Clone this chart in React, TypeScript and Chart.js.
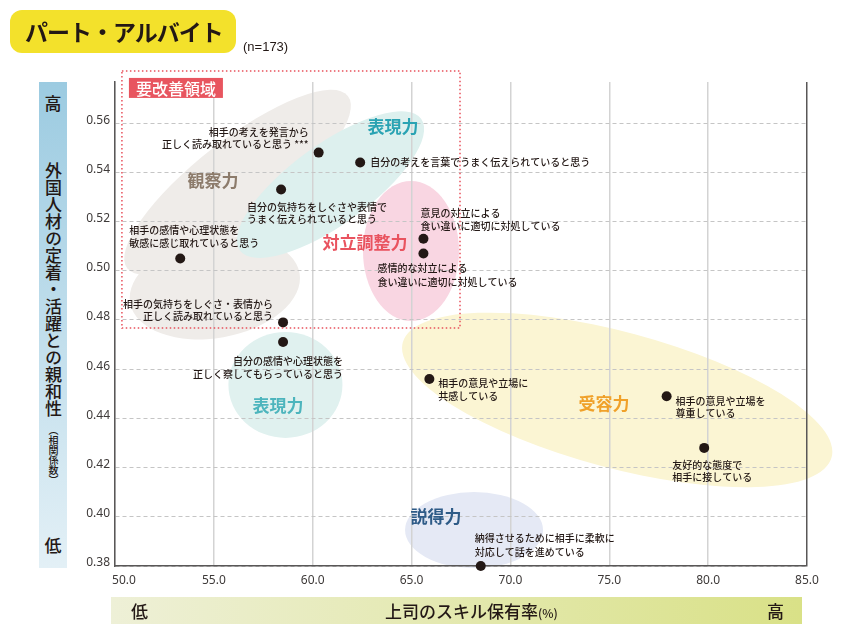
import { useEffect, useRef } from "react";
import { Chart, registerables } from "chart.js";

Chart.register(...registerables);

const JP = "'Noto Sans CJK JP', 'Noto Sans', sans-serif";

// 各項目（2行ラベル）
const pointNames = [
  ["相手の考えを発言から", "正しく読み取れていると思う ***"],
  ["自分の考えを言葉でうまく伝えられていると思う"],
  ["自分の気持ちをしぐさや表情で", "うまく伝えられていると思う"],
  ["相手の感情や心理状態を", "敏感に感じ取れていると思う"],
  ["意見の対立による", "食い違いに適切に対処している"],
  ["感情的な対立による", "食い違いに適切に対処している"],
  ["相手の気持ちをしぐさ・表情から", "正しく読み取れていると思う"],
  ["自分の感情や心理状態を", "正しく察してもらっていると思う"],
  ["相手の意見や立場に", "共感している"],
  ["相手の意見や立場を", "尊重している"],
  ["友好的な態度で", "相手に接している"],
  ["納得させるために相手に柔軟に", "対応して話を進めている"],
];
// 上司のスキル保有率(%)
const skillRates = [60.3, 62.4, 58.4, 53.3, 65.6, 65.6, 58.5, 58.5, 65.9, 77.9, 79.8, 68.5];
// 相関係数
const correlations = [0.548, 0.544, 0.533, 0.505, 0.513, 0.507, 0.479, 0.471, 0.456, 0.449, 0.428, 0.38];

const xTicks = [50, 55, 60, 65, 70, 75, 80, 85];
const yTicks = [0.38, 0.4, 0.42, 0.44, 0.46, 0.48, 0.5, 0.52, 0.54, 0.56];

const groupNames = ["観察力", "表現力", "対立調整力", "表現力", "受容力", "説得力"];

// label placement next to each point (px offsets from the dot)
const labelLayout = [
  { align: "right", dx: -10, dy: -20, lh: 12 },
  { align: "left", dx: 10, dy: 0, lh: 12 },
  { align: "left", dx: -34, dy: 18, lh: 12 },
  { align: "left", dx: -51, dy: -28, lh: 13 },
  { align: "left", dx: -3, dy: -26, lh: 13 },
  { align: "left", dx: -46, dy: 15, lh: 14 },
  { align: "right", dx: -10, dy: -18, lh: 12 },
  { align: "right", dx: 60, dy: 19, lh: 13 },
  { align: "left", dx: 9, dy: 4, lh: 13 },
  { align: "left", dx: 9, dy: 5, lh: 12 },
  { align: "left", dx: -32, dy: 17, lh: 12 },
  { align: "left", dx: -6, dy: -28, lh: 14 },
];

// background groupings (centre in data units, size in px)
const areas = [
  { cx: 56.2, cy: 0.536, rx: 140, ry: 42, rot: -38, color: "#efece9" },
  { cx: 55.05, cy: 0.493, rx: 86, ry: 50, rot: -10, color: "#efece9" },
  { cx: 60.9, cy: 0.535, rx: 112, ry: 40, rot: -36, color: "#ddf0ee" },
  { cx: 64.97, cy: 0.508, rx: 48, ry: 70, rot: 0, color: "#f9d6e2" },
  { cx: 58.62, cy: 0.4536, rx: 57, ry: 53, rot: 0, color: "#e0f1ef" },
  { cx: 75.4, cy: 0.4475, rx: 222, ry: 68, rot: 15, color: "#fbf5d3" },
  { cx: 68.16, cy: 0.3946, rx: 69, ry: 38, rot: 0, color: "#e5e9f5" },
];
const groupLabels = [
  { x: 54.96, y: 0.5365, color: "#8c7b6b" },
  { x: 64.06, y: 0.5585, color: "#2aa3b3" },
  { x: 62.65, y: 0.5113, color: "#e9535f" },
  { x: 58.24, y: 0.4454, color: "#4db5bd" },
  { x: 74.73, y: 0.4459, color: "#f0a12a" },
  { x: 66.24, y: 0.4003, color: "#2e5b87" },
];
const focusArea = { x0: 50.35, x1: 67.45, y0: 0.4767, y1: 0.5812 };

const decoPlugin = {
  id: "deco",
  beforeDraw(chart: any) {
    const { ctx } = chart;
    const { x, y } = chart.scales;
    areas.forEach((a) => {
      ctx.save();
      ctx.fillStyle = a.color;
      ctx.beginPath();
      ctx.ellipse(x.getPixelForValue(a.cx), y.getPixelForValue(a.cy), a.rx, a.ry, (a.rot * Math.PI) / 180, 0, Math.PI * 2);
      ctx.fill();
      ctx.restore();
    });
  },
  afterDatasetsDraw(chart: any) {
    const { ctx } = chart;
    const { x, y } = chart.scales;

    // 要改善領域
    const rx0 = x.getPixelForValue(focusArea.x0);
    const rx1 = x.getPixelForValue(focusArea.x1);
    const ry0 = y.getPixelForValue(focusArea.y1);
    const ry1 = y.getPixelForValue(focusArea.y0);
    ctx.save();
    ctx.strokeStyle = "#e8505b";
    ctx.lineWidth = 1.5;
    ctx.setLineDash([1.5, 2.5]);
    ctx.strokeRect(rx0, ry0, rx1 - rx0, ry1 - ry0);
    ctx.setLineDash([]);
    ctx.fillStyle = "#e8555f";
    ctx.fillRect(rx0 + 7, ry0 + 7, 94, 20);
    ctx.fillStyle = "#ffffff";
    ctx.font = `500 16px ${JP}`;
    ctx.textAlign = "center";
    ctx.textBaseline = "middle";
    ctx.fillText("要改善領域", rx0 + 54, ry0 + 17.5);
    ctx.restore();

    // group names
    ctx.save();
    ctx.font = `bold 17px ${JP}`;
    ctx.textAlign = "center";
    ctx.textBaseline = "middle";
    groupLabels.forEach((g, i) => {
      ctx.fillStyle = g.color;
      ctx.fillText(groupNames[i], x.getPixelForValue(g.x), y.getPixelForValue(g.y));
    });
    ctx.restore();

    // point labels
    const meta = chart.getDatasetMeta(0);
    ctx.save();
    ctx.font = `500 10px ${JP}`;
    ctx.fillStyle = "#231815";
    ctx.textBaseline = "middle";
    meta.data.forEach((pt: any, i: number) => {
      const l = labelLayout[i];
      ctx.textAlign = l.align;
      pointNames[i].forEach((line, k) => {
        ctx.fillText(line, pt.x + l.dx, pt.y + l.dy + k * l.lh);
      });
    });
    ctx.restore();
  },
};

export default function App() {
  const canvasRef = useRef<HTMLCanvasElement | null>(null);

  useEffect(() => {
    if (!canvasRef.current) return;
    const chart = new Chart(canvasRef.current, {
      type: "scatter",
      data: {
        datasets: [
          {
            data: skillRates.map((v, i) => ({ x: v, y: correlations[i] })),
            backgroundColor: "#231815",
            borderWidth: 0,
            pointRadius: 5,
            clip: false as any,
          },
        ],
      },
      options: {
        responsive: false,
        animation: false,
        layout: { padding: { top: 82, right: 39, left: 0, bottom: 0 } },
        plugins: { legend: { display: false }, tooltip: { enabled: false } },
        scales: {
          x: {
            type: "linear",
            min: 50,
            max: 85,
            afterBuildTicks: (s: any) => {
              s.ticks = xTicks.map((v) => ({ value: v }));
            },
            afterFit: (s: any) => {
              s.height = 74;
            },
            grid: {
              color: (c: any) => (c.tick && c.tick.value === 85 ? "#595757" : "#d3d3d3"),
              lineWidth: 1.5,
              drawTicks: false,
            },
            border: { color: "#595757", width: 1.5 },
            ticks: {
              padding: 7,
              color: "#3e3a39",
              font: { family: "'Noto Sans', sans-serif", size: 12 },
              callback: (v: any) => (v === 50 ? "\u2002\u2002\u200250.0" : Number(v).toFixed(1)),
            },
          },
          y: {
            type: "linear",
            min: 0.38,
            max: 0.5767,
            afterBuildTicks: (s: any) => {
              s.ticks = yTicks.map((v) => ({ value: v }));
            },
            afterFit: (s: any) => {
              s.width = 115;
            },
            grid: { color: "#c5c5c5", lineWidth: 1, drawTicks: false },
            border: { color: "#595757", width: 1.5, dash: [4, 3] },
            ticks: {
              padding: 5,
              labelOffset: -3,
              color: "#3e3a39",
              font: { family: "'Noto Sans', sans-serif", size: 12 },
              callback: (v: any) => Number(v).toFixed(2),
            },
          },
        },
      },
      plugins: [decoPlugin as any],
    });
    return () => {
      chart.destroy();
    };
  }, []);

  const ink = "#231815";

  return (
    <div style={{ position: "fixed", left: 0, top: 0, width: 846, height: 640, background: "#fff", fontFamily: JP, color: ink }}>
      <canvas ref={canvasRef} width={846} height={640} style={{ position: "absolute", left: 0, top: 0 }} />

      {/* title */}
      <div
        style={{
          position: "absolute",
          left: 10,
          top: 10,
          width: 226,
          height: 43,
          borderRadius: 12,
          background: "#f3e12b",
        }}
      >
        <span
          style={{
            position: "absolute",
            left: 15,
            top: 0,
            lineHeight: "43px",
            fontSize: 23,
            fontWeight: 700,
            letterSpacing: -1,
            whiteSpace: "nowrap",
          }}
        >
          パート・アルバイト
        </span>
      </div>
      <span style={{ position: "absolute", left: 243, top: 38, fontSize: 13, fontFamily: "'Liberation Sans', sans-serif", lineHeight: "18px" }}>
        (n=173)
      </span>

      {/* y axis title bar */}
      <div
        style={{
          position: "absolute",
          left: 39,
          top: 82,
          width: 28,
          height: 486,
          background: "linear-gradient(to bottom, #9ccbe1, #e3f0f6)",
        }}
      >
        <span style={{ position: "absolute", left: 0, top: 12, width: 28, textAlign: "center", fontSize: 17, lineHeight: "17px", fontWeight: 500 }}>
          高
        </span>
        <div
          style={{
            position: "absolute",
            left: 0,
            top: 80,
            width: 28,
            writingMode: "vertical-rl",
            fontSize: 17,
            lineHeight: "28px",
            fontWeight: 500,
            whiteSpace: "nowrap",
          }}
        >
          外国人材の定着・活躍との親和性
        </div>
        <div
          style={{
            position: "absolute",
            left: 0,
            top: 343,
            width: 28,
            writingMode: "vertical-rl",
            fontSize: 10,
            lineHeight: "28px",
            fontWeight: 500,
            whiteSpace: "nowrap",
          }}
        >
          （相関係数）
        </div>
        <span style={{ position: "absolute", left: 0, top: 454, width: 28, textAlign: "center", fontSize: 17, lineHeight: "17px", fontWeight: 500 }}>
          低
        </span>
      </div>

      {/* x axis title bar */}
      <div
        style={{
          position: "absolute",
          left: 111,
          top: 597,
          width: 691,
          height: 27,
          background: "linear-gradient(to right, #eef0d7, #d9e187)",
        }}
      >
        <span style={{ position: "absolute", left: 20, top: 0, width: 17, lineHeight: "27px", fontSize: 17, fontWeight: 500 }}>低</span>
        <span style={{ position: "absolute", left: 274, top: 0, lineHeight: "27px", fontSize: 17, fontWeight: 500, whiteSpace: "nowrap" }}>
          上司のスキル保有率<span style={{ fontSize: 12 }}>(%)</span>
        </span>
        <span style={{ position: "absolute", left: 656, top: 0, width: 17, lineHeight: "27px", fontSize: 17, fontWeight: 500 }}>高</span>
      </div>
    </div>
  );
}
